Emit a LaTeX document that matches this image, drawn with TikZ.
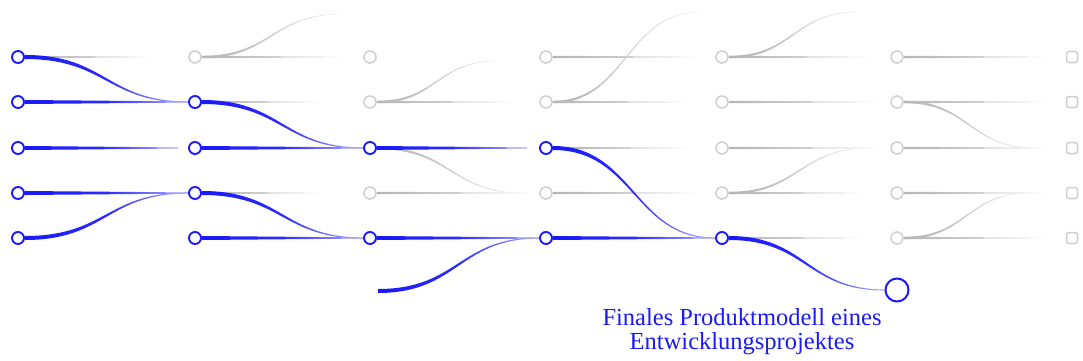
\documentclass[tikz,border=0pt]{standalone}
\usepackage{fontspec}
\setmainfont{Liberation Serif}
\usetikzlibrary{calc}
\definecolor{mblue}{RGB}{25,25,250}
\pgfdeclarelayer{bg}
\pgfsetlayers{bg,main}
\newcommand\conn[7]{%
  \path[left color=#3,right color=#4,middle color=#7] let \p1=(#1),\p2=(#2),\p3=($(#1)!0.5!(#2)$) in
   (\x1,\y1+#5pt) .. controls (\x3,\y1+#5pt) and (\x3,\y2+#6pt) .. (\x2,\y2+#6pt)
   -- (\x2,\y2-#6pt) .. controls (\x3,\y2-#6pt) and (\x3,\y1-#5pt) .. (\x1,\y1-#5pt) -- cycle;}
\newcommand\bconn[2]{\conn{#1}{#2}{mblue}{mblue!35}{2.0}{0.55}{mblue!92}}
\newcommand\gconn[2]{\conn{#1}{#2}{gray!58}{gray!6}{1.2}{0.4}{gray!40}}
\tikzset{
  bnode/.style={circle,draw=mblue,line width=1.9pt,fill=white,minimum size=12pt,inner sep=0pt},
  gnode/.style={circle,draw=gray!38,line width=1.5pt,fill=white,minimum size=12pt,inner sep=0pt},
  endbox/.style={rectangle,rounded corners=2.5pt,draw=gray!38,line width=1.5pt,fill=white,minimum size=11pt,inner sep=0pt},
  finalnode/.style={circle,draw=mblue,line width=2pt,fill=white,minimum size=23pt,inner sep=0pt},
  lbl/.style={text=mblue,anchor=base,inner sep=0pt,font=\fontsize{24.5}{24.5}\selectfont}
}
\begin{document}
\begin{tikzpicture}[x=1pt,y=-1pt]
\useasboundingbox (0,0) rectangle (1083,361);
% column 0
\node[bnode] (n00) at (18,57) {};
\node[bnode] (n01) at (18,102) {};
\node[bnode] (n02) at (18,148) {};
\node[bnode] (n03) at (18,193) {};
\node[bnode] (n04) at (18,238) {};
% column 1
\node[gnode] (n10) at (195,57) {};
\node[bnode] (n11) at (195,102) {};
\node[bnode] (n12) at (195,148) {};
\node[bnode] (n13) at (195,193) {};
\node[bnode] (n14) at (195,238) {};
% column 2
\node[gnode] (n20) at (370,57) {};
\node[gnode] (n21) at (370,102) {};
\node[bnode] (n22) at (370,148) {};
\node[gnode] (n23) at (370,193) {};
\node[bnode] (n24) at (370,238) {};
% column 3
\node[gnode] (n30) at (546,57) {};
\node[gnode] (n31) at (546,102) {};
\node[bnode] (n32) at (546,148) {};
\node[gnode] (n33) at (546,193) {};
\node[bnode] (n34) at (546,238) {};
% column 4
\node[gnode] (n40) at (722,57) {};
\node[gnode] (n41) at (722,102) {};
\node[gnode] (n42) at (722,148) {};
\node[gnode] (n43) at (722,193) {};
\node[bnode] (n44) at (722,238) {};
% column 5
\node[gnode] (n50) at (897,57) {};
\node[gnode] (n51) at (897,102) {};
\node[gnode] (n52) at (897,148) {};
\node[gnode] (n53) at (897,193) {};
\node[gnode] (n54) at (897,238) {};
% column 6
\node[endbox] (n60) at (1072,57) {};
\node[endbox] (n61) at (1072,102) {};
\node[endbox] (n62) at (1072,148) {};
\node[endbox] (n63) at (1072,193) {};
\node[endbox] (n64) at (1072,238) {};
% final model
\node[finalnode] (F) at (897,290) {};
\node[lbl] (t1) at (742,325) {Finales Produktmodell eines};
\node[lbl] (t2) at (742,349) {Entwicklungsprojektes};
% free ends
\coordinate (e00) at (150,57);
\coordinate (e02) at (178,148);
\coordinate (e10c) at (342,14);
\coordinate (e10) at (342,57);
\coordinate (e11) at (320,102);
\coordinate (e13) at (320,193);
\coordinate (e21c) at (497,61);
\coordinate (e21) at (512,102);
\coordinate (e22) at (527,148);
\coordinate (e22c) at (524,193);
\coordinate (e23) at (527,193);
\coordinate (s2b) at (378,291);
\coordinate (e30) at (697,57);
\coordinate (e31c) at (700,12);
\coordinate (e31) at (687,102);
\coordinate (e32) at (690,148);
\coordinate (e33) at (697,193);
\coordinate (e40c) at (858,12);
\coordinate (e40) at (868,57);
\coordinate (e41) at (876,102);
\coordinate (e42) at (876,148);
\coordinate (e43c) at (870,148);
\coordinate (e43) at (862,193);
\coordinate (e44) at (862,238);
\coordinate (e50) at (1046,57);
\coordinate (e51) at (1046,102);
\coordinate (e51c) at (1035,148);
\coordinate (e52) at (1046,148);
\coordinate (e53) at (1046,193);
\coordinate (e54) at (1046,238);
\coordinate (e54c) at (1030,193);
\begin{pgfonlayer}{bg}
% grey connectors
\gconn{n00.east}{e00}
\gconn{n10.east}{e10c}
\gconn{n10.east}{e10}
\gconn{n11.east}{e11}
\gconn{n13.east}{e13}
\gconn{n21.east}{e21c}
\gconn{n21.east}{e21}
\gconn{n22.east}{e22c}
\gconn{n23.east}{e23}
\gconn{n30.east}{e30}
\gconn{n31.east}{e31c}
\gconn{n31.east}{e31}
\gconn{n32.east}{e32}
\gconn{n33.east}{e33}
\gconn{n40.east}{e40c}
\gconn{n40.east}{e40}
\gconn{n41.east}{e41}
\gconn{n42.east}{e42}
\gconn{n43.east}{e43c}
\gconn{n43.east}{e43}
\gconn{n44.east}{e44}
\gconn{n50.east}{e50}
\gconn{n51.east}{e51}
\gconn{n51.east}{e51c}
\gconn{n52.east}{e52}
\gconn{n53.east}{e53}
\gconn{n54.east}{e54}
\gconn{n54.east}{e54c}
% blue connectors
\bconn{n00.east}{n11.west}
\bconn{n01.east}{n11.west}
\bconn{n02.east}{e02}
\bconn{n03.east}{n13.west}
\bconn{n04.east}{n13.west}
\bconn{n11.east}{n22.west}
\bconn{n12.east}{n22.west}
\bconn{n13.east}{n24.west}
\bconn{n14.east}{n24.west}
\bconn{n22.east}{e22}
\bconn{n24.east}{n34.west}
\bconn{s2b}{n34.west}
\bconn{n32.east}{n44.west}
\bconn{n34.east}{n44.west}
\bconn{n44.east}{F.west}
\end{pgfonlayer}
\end{tikzpicture}
\end{document}
